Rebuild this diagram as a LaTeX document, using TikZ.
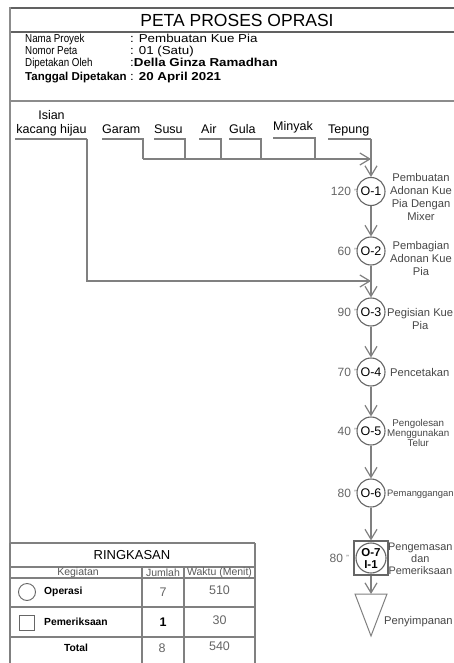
\documentclass[tikz,border=0pt]{standalone}
\usepackage{graphicx}
\usepackage{fontspec}
\setmainfont{Liberation Sans}
\usetikzlibrary{arrows.meta}
\newcommand{\setfs}[2]{\fontsize{#1}{#2}\selectfont}
\newcommand{\narrow}[1]{\scalebox{0.85}[1]{#1}}
\newcommand{\wide}[1]{\scalebox{1.16}[1]{#1}}
\begin{document}
\begin{tikzpicture}[x=1pt,y=-1pt,
  frame/.style={draw=black!62, line width=1.8pt},
  frameb/.style={draw=black!45, line width=1.6pt},
  tline/.style={draw=black!50, line width=1.2pt},
  flow/.style={draw=black!50, line width=1.2pt},
  arr/.style={-{Straight Barb[length=10pt,width=12pt]}},
  op/.style={circle, draw=black!60, line width=1.1pt, minimum size=28pt, inner sep=0pt, font=\setfs{12.5}{14}},
  tlab/.style={anchor=east, inner sep=0pt, text=black!60, font=\setfs{12}{13}},
  rlab/.style={anchor=west, inner sep=0pt, align=center, text=black!72, font=\setfs{11.2}{12.8}},
  rlabs/.style={anchor=west, inner sep=0pt, align=center, text=black!72, font=\setfs{9.8}{10}},
  mat/.style={anchor=base west, inner sep=0pt, font=\setfs{12.5}{14}},
  info/.style={anchor=base west, inner sep=0pt, font=\setfs{11.5}{12}},
  val/.style={anchor=base west, inner sep=0pt, font=\setfs{11.5}{12}},
  tb/.style={inner sep=0pt, text=black!65, font=\setfs{10.5}{11}},
  tn/.style={inner sep=0pt, text=black!60, font=\setfs{12.5}{13}},
  tbold/.style={inner sep=0pt, font=\bfseries\setfs{10.3}{11}}
]
\useasboundingbox (0,0) rectangle (454,663);
\fill[white] (0,0) rectangle (454,663);

% ---- frame ----
\draw[frame] (10,8) -- (454,8);
\draw[frame] (10,32) -- (454,32);
\draw[frameb] (10,101) -- (454,101);
\draw[frameb] (10,7) -- (10,663);

% ---- header ----
\node[inner sep=0pt, font=\setfs{17.5}{18}] (title) at (237,20) {PETA PROSES OPRASI};
\node[info] (l1) at (25,43) {\narrow{Nama Proyek}};
\node[info] (l2) at (25,55) {\narrow{Nomor Peta}};
\node[info] (l3) at (25,66.5) {\narrow{Dipetakan Oleh}};
\node[info, font=\bfseries\setfs{11.5}{12}] (l4) at (25,81) {Tanggal Dipetakan};
\node[val] (v1) at (130,43) {\wide{: Pembuatan Kue Pia}};
\node[val] (v2) at (130,55) {\wide{: 01 (Satu)}};
\node[val] (v3) at (130,66.5) {\wide{:\textbf{Della Ginza Ramadhan}}};
\node[val] (v4) at (130,81) {\wide{: \textbf{20 April 2021}}};

% ---- materials ----
\node[mat, anchor=base] (isian) at (51.5,120) {Isian};
\node[mat, anchor=base] (kacang) at (51.5,134) {kacang hijau};
\node[mat] (garam) at (102,134) {Garam};
\node[mat] (susu) at (154,134) {Susu};
\node[mat] (air) at (201,134) {Air};
\node[mat] (gula) at (229,134) {Gula};
\node[mat] (minyak) at (273,131) {Minyak};
\node[mat] (tepung) at (328,134) {Tepung};

\coordinate (uK) at (15,139);  \coordinate (cK) at (87,139);
\coordinate (bK) at (87,281);  \coordinate (fK) at (371,281);
\coordinate (uG) at (102,139); \coordinate (cG) at (143,139); \coordinate (jG) at (143,159);
\coordinate (uS) at (154,139); \coordinate (cS) at (185,139); \coordinate (jS) at (185,159);
\coordinate (uA) at (199,139); \coordinate (cA) at (221,139); \coordinate (jA) at (221,159);
\coordinate (uU) at (229,139); \coordinate (cU) at (261,139); \coordinate (jU) at (261,159);
\coordinate (uM) at (273,138); \coordinate (cM) at (315,138); \coordinate (jM) at (315,159);
\coordinate (uT) at (328,139); \coordinate (cT) at (371,139); \coordinate (jT) at (371,159);

% ---- process chain ----
\node[op] (o1) at (371,191.5) {O-1};
\node[op] (o2) at (371,251) {O-2};
\node[op] (o3) at (371,312) {O-3};
\node[op] (o4) at (371,372) {O-4};
\node[op] (o5) at (371,431) {O-5};
\node[op] (o6) at (371,493) {O-6};
\node[rectangle, draw=black!60, line width=1.1pt, minimum size=34pt, inner sep=0pt] (insp) at (371,558) {};
\node[circle, draw=black!60, line width=1.1pt, minimum size=30pt, inner sep=0pt, align=center,
      font=\bfseries\setfs{11.5}{12}] (o7) at (371,558) {O-7\\I-1};
\coordinate (tri) at (371,594);
\coordinate (triR) at (387,594);
\coordinate (triB) at (371,636);
\coordinate (triL) at (355,594);

\draw[flow] (uK) -- (cK);
\draw[flow,arr] (cK) -- (bK) -- (fK);
\draw[flow] (uG) -- (cG) -- (jG);
\draw[flow] (uS) -- (cS) -- (jS);
\draw[flow] (uA) -- (cA) -- (jA);
\draw[flow] (uU) -- (cU) -- (jU);
\draw[flow] (uM) -- (cM) -- (jM);
\draw[flow] (uT) -- (cT);
\draw[flow,arr] (jG) -- (jT);
\draw[flow,arr] (cT) -- (o1);
\draw[flow,arr] (o1) -- (o2);
\draw[flow,arr] (o2) -- (o3);
\draw[flow,arr] (o3) -- (o4);
\draw[flow,arr] (o4) -- (o5);
\draw[flow,arr] (o5) -- (o6);
\draw[flow,arr] (o6) -- (insp);
\draw[flow,arr] (insp) -- (tri);
\draw[flow, line width=1pt] (triL) -- (triR) -- (triB) -- cycle;

% ---- times ----
\node[tlab] (t1) at (357,191.5) {120 \raisebox{1.5pt}{\setfs{7.5}{8}"}};
\node[tlab] (t2) at (357,251) {60 \raisebox{1.5pt}{\setfs{7.5}{8}"}};
\node[tlab] (t3) at (357,312) {90 \raisebox{1.5pt}{\setfs{7.5}{8}"}};
\node[tlab] (t4) at (357,372) {70 \raisebox{1.5pt}{\setfs{7.5}{8}"}};
\node[tlab] (t5) at (357,431) {40 \raisebox{1.5pt}{\setfs{7.5}{8}"}};
\node[tlab] (t6) at (357,493) {80 \raisebox{1.5pt}{\setfs{7.5}{8}"}};
\node[tlab] (t7) at (349,558) {80 \raisebox{1.5pt}{\setfs{7.5}{8}"}};

% ---- descriptions ----
\node[rlab] (d1) at (390,197) {Pembuatan\\Adonan Kue\\Pia Dengan\\Mixer};
\node[rlab] (d2) at (390,258.5) {Pembagian\\Adonan Kue\\Pia};
\node[rlab] (d3) at (387,319) {Pegisian Kue\\Pia};
\node[rlab] (d4) at (390,372) {Pencetakan};
\node[rlabs] (d5) at (387,433) {Pengolesan\\Menggunakan\\Telur};
\node[rlabs, font=\setfs{9.4}{10}] (d6) at (387,494.5) {Pemanggangan};
\node[rlab, font=\setfs{10.9}{12}] (d7) at (388,558.5) {Pengemasan\\dan\\Pemeriksaan};
\node[rlab] (d8) at (384,622) {Penyimpanan};

% ---- summary table ----
\draw[tline] (10,543) -- (255,543);
\draw[tline] (10,567) -- (255,567);
\draw[tline] (10,578) -- (255,578);
\draw[tline] (10,607) -- (255,607);
\draw[tline] (10,637) -- (255,637);
\draw[tline] (255,543) -- (255,668);
\draw[tline] (142,567) -- (142,668);
\draw[tline] (184,567) -- (184,668);
\draw[tline] (10,543) -- (10,668);

\node[inner sep=0pt, font=\setfs{13}{14}] (ring) at (132,555) {RINGKASAN};
\node[tb] (hk) at (78,573) {Kegiatan};
\node[tb] (hj) at (163,573) {Jumlah};
\node[tb] (hw) at (219.5,573) {Waktu (Menit)};

\node[circle, draw=black!60, line width=0.9pt, minimum size=17pt, inner sep=0pt] (c1) at (27,592) {};
\node[tbold, anchor=west] (op) at (44,592) {Operasi};
\node[tn] (n1) at (163,592) {7};
\node[tn] (m1) at (219.5,590) {510};

\node[rectangle, draw=black!60, line width=0.9pt, minimum size=15pt, inner sep=0pt] (s1) at (27,623) {};
\node[tbold, anchor=west] (pm) at (44,622) {Pemeriksaan};
\node[tn, text=black, font=\bfseries\setfs{12.5}{13}] (n2) at (163,622) {1};
\node[tn] (m2) at (219.5,620) {30};

\node[tbold] (tot) at (76,648) {Total};
\node[tn] (n3) at (162,648) {8};
\node[tn] (m3) at (219.5,646) {540};
\end{tikzpicture}
\end{document}
